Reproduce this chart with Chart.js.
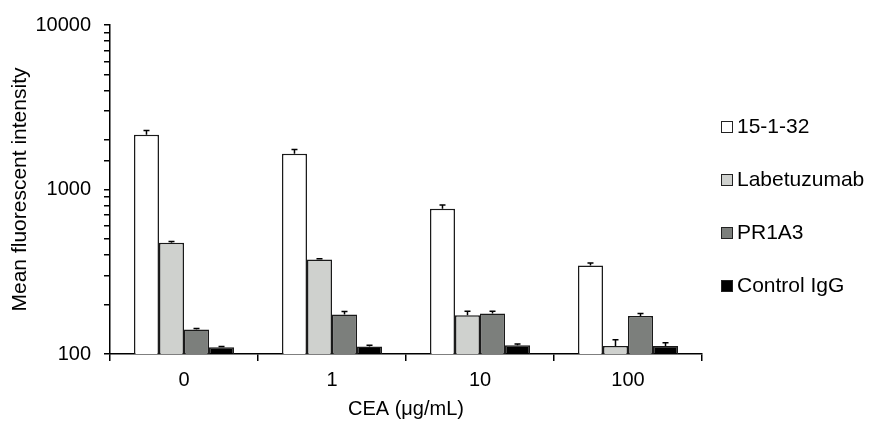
<!DOCTYPE html>
<html>
<head>
<meta charset="utf-8">
<script src="https://cdn.jsdelivr.net/npm/chart.js@4"></script>
<style>
  body { margin: 0; background: #fff; }
  #contenedor { width: 869px; height: 425px; }
</style>
</head>
<body>
<div id="contenedor"><canvas id="miGrafico"></canvas></div>
<script>
// Categorías del eje X (CEA en µg/mL)
const categorias = ["0", "1", "10", "100"];

// Nombres de las series
const series = ["15-1-32", "Labetuzumab", "PR1A3", "Control IgG"];

// Valores medios
const valores15132 = [2150, 1650, 765, 345];
const valoresLabetuzumab = [475, 376, 172, 112];
const valoresPR1A3 = [141, 174, 176, 170];
const valoresControl = [110, 111, 113, 112];

// Barras de error (solo hacia arriba)
const errores15132 = [130, 100, 40, 13];
const erroresLabetuzumab = [8, 3, 10, 10];
const erroresPR1A3 = [2, 7, 6, 6];
const erroresControl = [1, 2, 2, 5];

// Etiquetas del eje Y (escala logarítmica)
const etiquetasY = [100, 1000, 10000];

// Colores de relleno de cada serie
const colores = ['#ffffff', '#cfd1ce', '#7c7f7c', '#000000'];

Chart.defaults.font.family = 'Arial, "Liberation Sans", sans-serif';
Chart.defaults.font.size = 20;
Chart.defaults.color = '#000';

// Dibuja las barras de error encima de cada barra
const barrasError = {
    id: 'barrasError',
    afterDatasetsDraw(chart) {
        const ctx = chart.ctx;
        const escalaY = chart.scales.y;
        ctx.save();
        ctx.strokeStyle = '#000';
        ctx.lineWidth = 1.5;
        chart.data.datasets.forEach((ds, i) => {
            chart.getDatasetMeta(i).data.forEach((barra, j) => {
                const yArriba = escalaY.getPixelForValue(ds.data[j] + ds.errores[j]);
                ctx.beginPath();
                ctx.moveTo(barra.x, barra.y);
                ctx.lineTo(barra.x, yArriba);
                ctx.moveTo(barra.x - 3, yArriba);
                ctx.lineTo(barra.x + 3, yArriba);
                ctx.stroke();
            });
        });
        ctx.restore();
    }
};

// Leyenda a la derecha, dibujada a mano
const leyenda = {
    id: 'leyenda',
    afterDraw(chart) {
        const ctx = chart.ctx;
        ctx.save();
        ctx.font = '21px Arial, "Liberation Sans", sans-serif';
        ctx.textBaseline = 'middle';
        chart.data.datasets.forEach((ds, i) => {
            const cy = 127 + i * 53;
            ctx.fillStyle = ds.backgroundColor;
            ctx.fillRect(721, cy - 6, 12, 12);
            ctx.strokeStyle = '#222';
            ctx.lineWidth = 1;
            ctx.strokeRect(721.5, cy - 5.5, 11, 11);
            ctx.fillStyle = '#000';
            ctx.fillText(ds.label, 737, cy);
        });
        ctx.restore();
    }
};

function crearSerie(i, valores, errores) {
    return {
        label: series[i],
        data: valores,
        errores: errores,
        backgroundColor: colores[i],
        borderColor: '#1a1a1a',
        borderWidth: 1.5,
        categoryPercentage: 0.676,
        barPercentage: 1
    };
}

const ctx = document.getElementById('miGrafico').getContext('2d');

new Chart(ctx, {
    type: 'bar',
    data: {
        labels: categorias,
        datasets: [
            crearSerie(0, valores15132, errores15132),
            crearSerie(1, valoresLabetuzumab, erroresLabetuzumab),
            crearSerie(2, valoresPR1A3, erroresPR1A3),
            crearSerie(3, valoresControl, erroresControl)
        ]
    },
    options: {
        responsive: true,
        maintainAspectRatio: false,
        animation: false,
        layout: { padding: { top: 17, right: 167, left: 0, bottom: 0 } },
        plugins: {
            legend: { display: false },
            tooltip: { enabled: false }
        },
        scales: {
            x: {
                afterFit: (escala) => { escala.height = 71; },
                ticks: { padding: 7 },
                grid: { drawOnChartArea: false, offset: true, tickLength: 7, color: '#000', lineWidth: 1.5 },
                border: { color: '#000', width: 1.5 },
                title: { display: true, text: 'CEA (μg/mL)', padding: { top: 4, bottom: 4 } }
            },
            y: {
                type: 'logarithmic',
                min: 100,
                max: 10000,
                afterFit: (escala) => { escala.width = 110; },
                ticks: {
                    autoSkip: false,
                    padding: 13,
                    callback: (v) => etiquetasY.some(e => Math.abs(e - v) < 1e-6) ? String(v) : ''
                },
                grid: { drawOnChartArea: false, tickLength: 6, color: '#000', lineWidth: 1.5 },
                border: { color: '#000', width: 1.5 },
                title: { display: true, text: 'Mean fluorescent intensity', font: { size: 21 }, padding: { top: 8, bottom: 0 } }
            }
        }
    },
    plugins: [barrasError, leyenda]
});
</script>
</body>
</html>
